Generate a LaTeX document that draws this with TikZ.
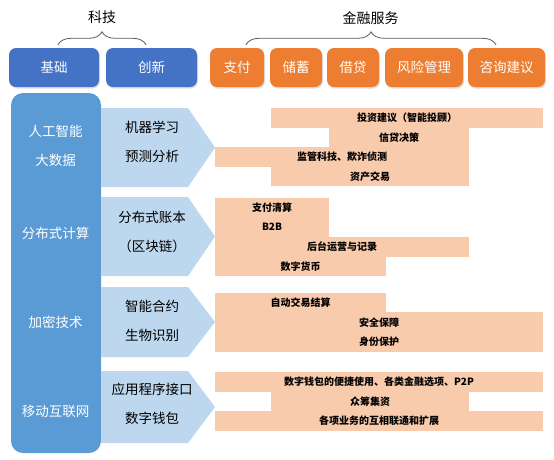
\documentclass[tikz,border=0pt]{standalone}
\usepackage{fontspec}
\setmainfont{Noto Sans CJK SC}
\usetikzlibrary{positioning, shadows, decorations.pathreplacing}

\definecolor{techblue}{HTML}{4472C4}
\definecolor{finorange}{HTML}{ED7D31}
\definecolor{pillarblue}{HTML}{5B9BD5}
\definecolor{chevblue}{HTML}{BDD7EE}
\definecolor{barpeach}{HTML}{F8CBAD}
\definecolor{braceline}{HTML}{595959}

\begin{document}
\begin{tikzpicture}[x=1pt, y=-1pt,
    % Styles
    tech/.style={fill=techblue, rounded corners=7pt, text=white, font=\fontsize{13.5}{16}\selectfont, minimum height=39pt, inner sep=0pt, drop shadow={opacity=0.25, shadow xshift=1pt, shadow yshift=-1.5pt}},
    fin/.style={tech, fill=finorange},
    title/.style={font=\fontsize{14}{16}\selectfont, text=black},
    brace-line/.style={decorate, decoration={brace, amplitude=13pt}, draw=braceline, line width=0.8pt},
    pillar/.style={fill=pillarblue, rounded corners=12pt, minimum width=90pt, minimum height=360pt, inner sep=0pt},
    pillar-text/.style={text=white, font=\fontsize{13.5}{29}\selectfont, align=center},
    chevron/.style={fill=chevblue},
    chev-text/.style={text=black, font=\fontsize{13.5}{29}\selectfont, align=center},
    bar/.style={fill=barpeach, minimum height=19.7pt, inner sep=0pt, outer sep=0pt, font=\fontsize{10}{12}\selectfont\bfseries},
]
\useasboundingbox (0,0) rectangle (554,459);

% Top row: technology and financial services
\node[tech, minimum width=90pt] (basic) at (54,67.5) {基础};
\node[tech, minimum width=91pt] (innov) at (151.5,67.5) {创新};

\node[fin, minimum width=54pt] (pay) at (237,67.5) {支付};
\node[fin, minimum width=52pt] (saving) at (296,67.5) {储蓄};
\node[fin, minimum width=52pt] (lending) at (353,67.5) {借贷};
\node[fin, minimum width=78pt] (risk) at (424,67.5) {风险管理};
\node[fin, minimum width=77pt] (advice) at (506.5,67.5) {咨询建议};

% Braces and titles
\draw[brace-line] ([xshift=4pt, yshift=3pt]basic.north) -- ([xshift=-5.5pt, yshift=3pt]innov.north);
\node[title] (tech-title) at (102,17) {科技};
\draw[brace-line] ([xshift=9pt, yshift=3pt]pay.north) -- ([xshift=-10.5pt, yshift=3pt]advice.north);
\node[title] (fin-title) at (370.5,18) {金融服务};

% Left pillar
\node[pillar] (pillar) at (56,273) {};
\node[pillar-text] (ai) at (55.5,145.5) {人工智能\\大数据};
\node[pillar-text] (dist) at (55.5,233) {分布式计算};
\node[pillar-text] (crypto) at (55.5,322) {加密技术};
\node[pillar-text] (mobile) at (55.5,411) {移动互联网};

% Chevrons
\fill[chevron] (101,108) -- (188,108) -- (215,147.5) -- (188,187) -- (101,187) -- cycle;
\fill[chevron] (101,197) -- (188,197) -- (215,236.5) -- (188,276) -- (101,276) -- cycle;
\fill[chevron] (101,287) -- (188,287) -- (215,322) -- (188,357) -- (101,357) -- cycle;
\fill[chevron] (101,371) -- (188,371) -- (215,407) -- (188,443) -- (101,443) -- cycle;

\node[chev-text] (ml) at (152,142) {机器学习\\预测分析};
\node[chev-text] (ledger) at (152,231.5) {分布式账本\\（区块链）};
\node[chev-text] (contract) at (152,320.5) {智能合约\\生物识别};
\node[chev-text] (api) at (152,403.5) {应用程序接口\\数字钱包};

% Applications: AI and big data
\node[bar, minimum width=272pt] (invest) at (407,117.75) {投资建议（智能投顾）};
\node[bar, minimum width=140pt] (credit) at (399,137.25) {信贷决策};
\node[bar, minimum width=254pt] (regtech) at (342,156.75) {监管科技、欺诈侦测};
\node[bar, minimum width=198pt] (asset) at (370,176.25) {资产交易};

% Applications: distributed ledger
\node[bar, minimum width=114pt] (clearing) at (272,207.75) {支付清算};
\node[bar, minimum width=114pt] (b2b) at (272,227.25) {B2B};
\node[bar, minimum width=254pt] (backoffice) at (342,246.75) {后台运营与记录};
\node[bar, minimum width=171pt] (dcurrency) at (300.5,266.25) {数字货币};

% Applications: cryptography
\node[bar, minimum width=171pt] (autosettle) at (300.5,302.75) {自动交易结算};
\node[bar, minimum width=328pt] (security) at (379,322.25) {安全保障};
\node[bar, minimum width=328pt] (identity) at (379,341.75) {身份保护};

% Applications: mobile internet
\node[bar, minimum width=328pt] (wallet) at (379,381.75) {数字钱包的便捷使用、各类金融选项、P2P};
\node[bar, minimum width=198pt] (crowdfund) at (370,401.25) {众筹集资};
\node[bar, minimum width=328pt] (interconnect) at (379,420.75) {各项业务的互相联通和扩展};

\end{tikzpicture}
\end{document}
